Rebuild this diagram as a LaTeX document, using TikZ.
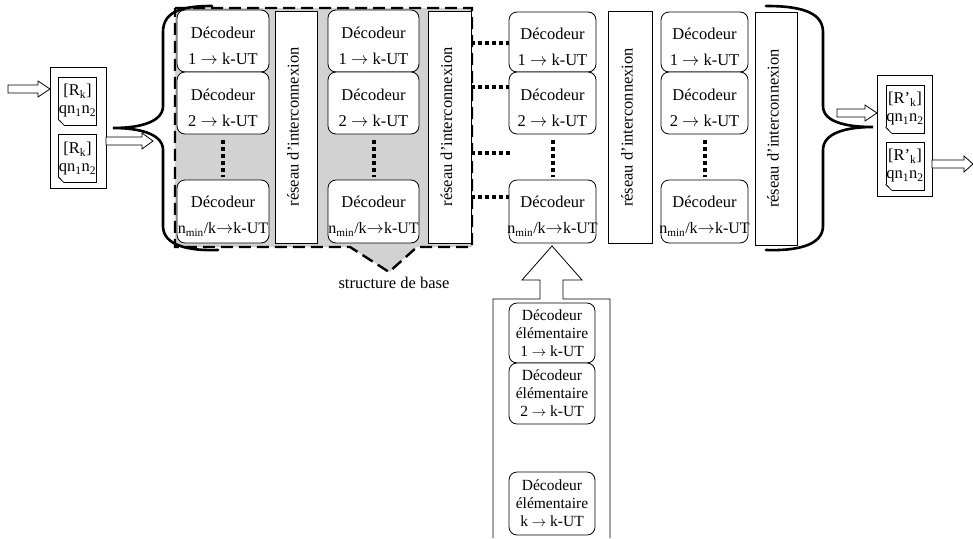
\documentclass[tikz,border=0pt]{standalone}
\usepackage{fontspec}
\setmainfont{Liberation Serif}
\usetikzlibrary{calc}
\tikzset{
  decbox/.style={draw, rounded corners=8pt, fill=white, line width=0.8pt, inner sep=0pt},
  dectext/.style={align=center, font=\fontsize{16.5}{19}\selectfont, inner sep=0pt},
  eltext/.style={align=center, font=\fontsize{15.5}{18}\selectfont, inner sep=0pt},
  icbox/.style={draw, fill=white, line width=0.8pt, inner sep=0pt, minimum height=232pt},
  ictext/.style={rotate=90, font=\fontsize{16.5}{19}\selectfont, inner sep=0pt},
  dotline/.style={line width=4pt, dash pattern=on 4pt off 3pt},
  brace/.style={line width=2.6pt, line cap=round},
  hollow/.style={draw, fill=white, line width=0.8pt},
  dashbox/.style={draw, fill=gray!35, line width=2.4pt, dash pattern=on 12pt off 6pt},
  container/.style={draw, line width=0.8pt, inner sep=0pt},
  docbox/.style={draw, fill=white, line width=0.7pt, inner sep=0pt, align=center, font=\fontsize{16.5}{18}\selectfont},
  captext/.style={font=\fontsize{16.5}{19}\selectfont, inner sep=0pt}
}
\newcommand{\mkdec}[6]{%
  \node[decbox, minimum width=#4pt, minimum height=#5pt] (#1) at (#2,#3) {};
  \node[dectext] (#1t) at ([yshift=-5pt]#1.center) {Décodeur\\[7pt]#6};}
\newcommand{\mkel}[5]{%
  \node[decbox, minimum width=86pt, minimum height=#4pt] (#1) at (#2,#3) {};
  \node[eltext] (#1t) at (#1.center) {Décodeur\\élémentaire\\#5};}
\newcommand{\mkdoc}[4]{%
  \node[docbox, minimum width=38pt, minimum height=48pt] (#1) at (#2,#3) {#4};
  \fill[white] ([xshift=-0.6pt,yshift=-0.6pt]#1.south west) rectangle ([xshift=6pt,yshift=6pt]#1.south west);
  \draw[line width=0.7pt] ([yshift=6pt]#1.south west) -- ([xshift=6pt]#1.south west);
  \draw[line width=0.5pt] ([yshift=6pt]#1.south west) -- ([xshift=3pt,yshift=3.5pt]#1.south west);}
\newcommand{\harr}[4]{%
  \draw[hollow] (#1,{#3-4}) -- ({#2-#4},{#3-4}) -- ({#2-#4},{#3-8}) -- (#2,#3) -- ({#2-#4},{#3+8}) -- ({#2-#4},{#3+4}) -- (#1,{#3+4}) -- cycle;}
\newcommand{\one}{1 $\rightarrow$ k-UT}
\newcommand{\two}{2 $\rightarrow$ k-UT}
\newcommand{\nmin}{{\fontsize{16}{19}\selectfont n\textsubscript{min}/k$\rightarrow$k-UT}}
\begin{document}
\begin{tikzpicture}[x=1pt,y=-1pt]
\useasboundingbox (0,0) rectangle (973,538);

% structure de base (gray dashed region)
\draw[dashbox] (175,8) -- (472,8) -- (472,247) -- (417,247) -- (389,272) -- (350,247) -- (175,247) -- cycle;
\node[captext] (sdb) at (394,283) {structure de base};

% decoder columns
\mkdec{d11}{223}{41}{92}{62}{\one}
\mkdec{d12}{223}{103}{92}{62}{\two}
\mkdec{d13}{223}{211.5}{92}{63}{\nmin}
\mkdec{d21}{373.5}{41}{91}{62}{\one}
\mkdec{d22}{373.5}{103}{91}{62}{\two}
\mkdec{d23}{373.5}{211.5}{91}{63}{\nmin}
\mkdec{d31}{552.5}{42}{87}{60}{\one}
\mkdec{d32}{552.5}{103}{87}{62}{\two}
\mkdec{d33}{552.5}{211.5}{87}{63}{\nmin}
\mkdec{d41}{704.5}{42}{87}{60}{\one}
\mkdec{d42}{704.5}{103}{87}{62}{\two}
\mkdec{d43}{704.5}{211.5}{87}{63}{\nmin}

% vertical dots
\foreach \c in {1,2,3,4}{
  \draw[dotline] ([yshift=-6pt]d\c2.south) -- ([yshift=3pt]d\c3.north);}

% interconnection networks
\node[icbox, minimum width=42pt] (ic1) at (296,127) {};
\node[icbox, minimum width=43pt] (ic2) at (449.5,127) {};
\node[icbox, minimum width=44pt] (ic3) at (630,127.5) {};
\node[icbox, minimum width=42pt, minimum height=233pt] (ic4) at (776,128.5) {};
\foreach \i in {1,2,3,4}{
  \node[ictext] (ic\i t) at ([xshift=-3pt]ic\i.center) {réseau d’interconnexion};}

% dotted links
\coordinate (r1) at (0,43);
\coordinate (r2) at (0,87);
\coordinate (r3) at (0,153);
\coordinate (r4) at (0,197);
\coordinate (g3) at (510,153);
\draw[dotline] (ic2.east |- r1) -- (d31.west |- r1);
\draw[dotline] (ic2.east |- r2) -- (d32.west |- r2);
\draw[dotline] (ic2.east |- r3) -- (g3);
\draw[dotline] (ic2.east |- r4) -- (d33.west |- r4);

% left brace
\draw[brace] (212,6) .. controls (185,6) and (163,10) .. (163,32) -- (163,106)
  .. controls (163,122) and (140,128) .. (113,128)
  .. controls (140,128) and (163,134) .. (163,150) -- (163,226)
  .. controls (163,246) and (190,251) .. (218,250);
% right brace
\draw[brace] (766,6) .. controls (795,6) and (823,10) .. (823,32) -- (823,106)
  .. controls (823,122) and (846,127) .. (873,127)
  .. controls (846,127) and (823,133) .. (823,150) -- (823,226)
  .. controls (823,246) and (795,251) .. (766,250);

% input documents
\node[container, minimum width=56pt, minimum height=121pt] (inbox) at (78,127.5) {};
\mkdoc{din1}{77.5}{101}{[R\textsubscript{k}]\\qn\textsubscript{1}n\textsubscript{2}}
\mkdoc{din2}{77.5}{158.5}{[R\textsubscript{k}]\\qn\textsubscript{1}n\textsubscript{2}}
\harr{8}{50}{89}{12}
\harr{106}{153}{141}{11}

% output documents
\node[container, minimum width=55pt, minimum height=121pt] (outbox) at (904.5,135.5) {};
\mkdoc{dout1}{905}{109}{[R’\textsubscript{k}]\\qn\textsubscript{1}n\textsubscript{2}}
\mkdoc{dout2}{905}{166}{[R’\textsubscript{k}]\\qn\textsubscript{1}n\textsubscript{2}}
\harr{837}{877}{113}{12}
\harr{932}{973}{164}{9}

% elementary decoders with big arrow
\draw[line width=0.8pt] (493,538) -- (493,299) -- (540,299) -- (540,280) -- (522,280) -- (552,246)
  -- (582,280) -- (563,280) -- (563,299) -- (610,299) -- (610,538);
\mkel{e1}{552}{333}{60}{1 $\rightarrow$ k-UT}
\mkel{e2}{552}{393.5}{61}{2 $\rightarrow$ k-UT}
\mkel{e3}{552}{503.5}{63}{k $\rightarrow$ k-UT}
\end{tikzpicture}
\end{document}
